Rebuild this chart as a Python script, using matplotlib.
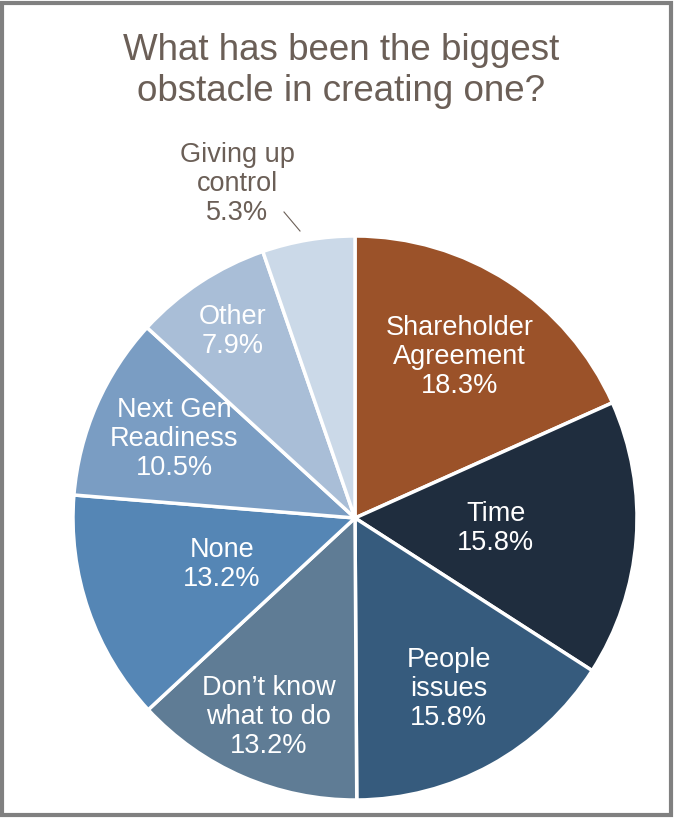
import numpy as np
import matplotlib.pyplot as plt
from matplotlib.patches import Rectangle

plt.rcParams['font.family'] = ['Liberation Sans', 'DejaVu Sans']

labels = ['Shareholder\nAgreement', 'Time', 'People\nissues', 'Don\u2019t know\nwhat to do',
          'None', 'Next Gen\nReadiness', 'Other', 'Giving up\ncontrol']
values = [18.3, 15.8, 15.8, 13.2, 13.2, 10.5, 7.9, 5.3]
colors = ['#9B5229', '#1F2D3E', '#365B7D', '#5F7C95', '#5586B5', '#7A9DC3', '#A9BED7', '#CBD9E8']
label_r = [0.68, 0.50, 0.69, 0.77, 0.50, 0.70, 0.79, None]

W, H = 674, 818
fig = plt.figure(figsize=(W / 100, H / 100), dpi=100)
ax = fig.add_axes([0, 0, 1, 1])

cx, cy, R = 355, 300, 282
wedges, _ = ax.pie(values, colors=colors, startangle=90, counterclock=False,
                   center=(cx, cy), radius=R, frame=True,
                   wedgeprops=dict(edgecolor='white', linewidth=2.5))
ax.set_xlim(0, W)
ax.set_ylim(0, H)
ax.axis('off')

for w, lab, v, r in zip(wedges, labels, values, label_r):
    if r is None:
        continue
    ang = np.deg2rad((w.theta1 + w.theta2) / 2)
    ax.text(cx + r * R * np.cos(ang), cy + r * R * np.sin(ang), f'{lab}\n{v}%',
            ha='center', va='center', color='white', fontsize=19.5, linespacing=1.15)

# outside label for the smallest slice
ax.text(237, H - 184, f'{labels[-1]}\n{values[-1]}%', ha='center', va='center',
        color='#6B5F57', fontsize=19.5, linespacing=1.15)
ax.plot([284, 300], [H - 212, H - 231], color='#6B5F57', lw=0.8)

ax.text(341, H - 71, 'What has been the biggest\nobstacle in creating one?', ha='center',
        va='center', color='#6B5F57', fontsize=26.5, linespacing=1.25)

fig.patches.append(Rectangle((2, 3), W - 5, H - 6, transform=None, fill=False,
                             edgecolor='#808080', linewidth=3))

fig.savefig('out.png', dpi=100)
